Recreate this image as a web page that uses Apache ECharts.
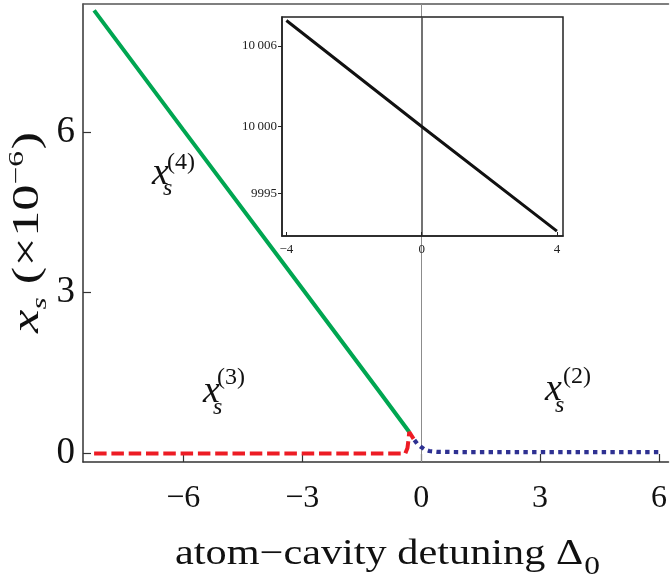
<!DOCTYPE html>
<html>
<head>
<meta charset="utf-8">
<script src="https://cdn.jsdelivr.net/npm/echarts@6/dist/echarts.min.js"></script>
<style>html,body{margin:0;padding:0;background:#fff}#c{width:670px;height:581px}</style>
</head>
<body>
<div id="c"></div>
<script>
// ---- data ----
const xTicks = [-6, -3, 0, 3, 6];
const yTicks = [0, 3, 6];
const insetXTicks = [-4, 0, 4];
const insetYTicks = [9995, 10000, 10006];
// x_s^(4) stable upper branch (green)
const branch4 = [[-8.25, 8.27], [-6, 6.04], [-3, 3.08], [-1, 1.1], [-0.30, 0.40]];
// x_s^(3) unstable branch (red dashed)
const branch3 = [[-8.25, 0.0], [-4, 0.0], [-0.40, 0.0], [-0.36, 0.03], [-0.345, 0.10], [-0.32, 0.25], [-0.30, 0.40], [-0.18, 0.26]];
// x_s^(2) branch (blue dotted)
const branch2 = [[-0.17, 0.25], [-0.10, 0.18], [0, 0.12], [0.1, 0.07], [0.2, 0.045], [0.4, 0.03], [1, 0.025], [6, 0.025]];
// inset x_s^(1)
const branch1 = [[-4, 10007.9], [0, 10000.0], [4, 9992.2]];

const SERIF = '"Liberation Serif", "Times New Roman", serif';
const chart = echarts.init(document.getElementById('c'), null, {renderer: 'canvas'});

const cv = document.createElement('canvas').getContext('2d');
function measure(t, font) { cv.font = font; return cv.measureText(t).width; }
function txt(t, x, y, size, italic) {
  const font = (italic ? 'italic ' : '') + size + 'px ' + SERIF;
  return {type: 'text', x: x, y: y - 0.34 * size,
    style: {text: t, font: font, fill: '#111', textAlign: 'left', textVerticalAlign: 'middle', align: 'left', verticalAlign: 'middle'}};
}
function runs(list) {
  let x = 0; const ch = [];
  list.forEach(r => {
    const font = (r.it ? 'italic ' : '') + r.size + 'px ' + SERIF;
    ch.push(txt(r.t, x + (r.dx || 0), r.dy || 0, r.size, r.it));
    x += measure(r.t, font) + (r.dx || 0);
  });
  return {children: ch, width: x};
}
function subsup(left, base, n, big, small, sdx, sdy, pdx, pdy) {
  return {type: 'group', x: left, y: base, z: 100, children: [
    txt('x', 0, 0, big, true),
    txt('s', sdx, sdy, small, true),
    txt('(' + n + ')', pdx, pdy, small, false)
  ]};
}

const xt = runs([{t: 'atom\u2212cavity detuning \u0394', size: 35}, {t: '0', size: 26, dy: 9, dx: 1}]);
const yt = runs([{t: 'x', size: 37, it: true}, {t: 's', size: 22, it: true, dy: 7}, {t: ' (\u00d710', size: 37}, {t: '\u22126', size: 22, dy: -16}, {t: ')', size: 37, dx: 1}]);

const axisColor = '#333';
const option = {
  backgroundColor: '#fff',
  animation: false,
  grid: [
    {left: 83, top: 4, right: 0, bottom: 119, show: false},
    {left: 282, top: 17, width: 281, height: 219, show: true, backgroundColor: '#fff', borderColor: '#222', borderWidth: 1.5, z: 5}
  ],
  xAxis: [
    {type: 'value', gridIndex: 0, min: -8.53, max: 6.24, position: 'bottom',
      axisLine: {show: true, onZero: false, lineStyle: {color: axisColor, width: 1.5}},
      axisTick: {show: true, inside: true, length: 8, customValues: xTicks, lineStyle: {color: axisColor, width: 1.2}},
      axisLabel: {customValues: xTicks, margin: 21, fontSize: 32, fontFamily: SERIF, color: '#111', formatter: v => String(v).replace('-', '\u2212')},
      splitLine: {show: false}},
    {type: 'value', gridIndex: 0, min: -8.53, max: 6.24, position: 'top',
      axisLine: {show: true, onZero: false, lineStyle: {color: '#555', width: 1.5}},
      axisTick: {show: false}, axisLabel: {show: false}, splitLine: {show: false}},
    {type: 'value', gridIndex: 1, min: -4.13, max: 4.18, position: 'bottom',
      axisLine: {show: true, onZero: false, lineStyle: {color: '#222', width: 1.5}},
      axisTick: {show: true, inside: true, length: 4, customValues: insetXTicks, lineStyle: {color: '#222'}},
      axisLabel: {customValues: insetXTicks, margin: 7, fontSize: 13, fontFamily: SERIF, color: '#222', formatter: v => String(v).replace('-', '\u2212')},
      splitLine: {show: false}, z: 6}
  ],
  yAxis: [
    {type: 'value', gridIndex: 0, min: -0.16, max: 8.39,
      axisLine: {show: true, onZero: false, lineStyle: {color: axisColor, width: 1.5}},
      axisTick: {show: true, inside: true, length: 8, customValues: yTicks, lineStyle: {color: axisColor, width: 1.2}},
      axisLabel: {customValues: yTicks, margin: 8, fontSize: 37, fontFamily: SERIF, color: '#111'},
      splitLine: {show: false}},
    {type: 'value', gridIndex: 1, min: 9991.84, max: 10008.16,
      axisLine: {show: true, onZero: false, lineStyle: {color: '#222', width: 1.5}},
      axisTick: {show: true, inside: false, length: 4, customValues: insetYTicks, lineStyle: {color: '#222'}},
      axisLabel: {customValues: insetYTicks, margin: 5, fontSize: 13, fontFamily: SERIF, color: '#222',
        formatter: v => v >= 10000 ? '10\u2009' + String(v).slice(2) : String(v)},
      splitLine: {show: false}, z: 6}
  ],
  series: [
    {type: 'line', name: 'x4', xAxisIndex: 0, yAxisIndex: 0, data: branch4, showSymbol: false, symbol: 'none',
      lineStyle: {color: '#00A651', width: 4}, z: 3,
      markLine: {silent: true, symbol: 'none', label: {show: false}, lineStyle: {color: '#8c8c8c', width: 1, type: 'solid'},
        data: [{xAxis: 0}], z: 1}},
    {type: 'line', name: 'x3', xAxisIndex: 0, yAxisIndex: 0, data: branch3, showSymbol: false, symbol: 'none',
      lineStyle: {color: '#ED1C24', width: 4, type: [12.5, 4.8]}, z: 3},
    {type: 'line', name: 'x2', xAxisIndex: 0, yAxisIndex: 0, data: branch2, showSymbol: false, symbol: 'none',
      lineStyle: {color: '#2E3192', width: 4.2, type: [4.4, 4.3]}, z: 3},
    {type: 'line', name: 'x1', xAxisIndex: 2, yAxisIndex: 1, data: branch1, showSymbol: false, symbol: 'none',
      lineStyle: {color: '#111', width: 3}, z: 8,
      markLine: {silent: true, symbol: 'none', label: {show: false}, lineStyle: {color: '#444', width: 1.5, type: 'solid'},
        data: [{xAxis: 0}]}}
  ],
  graphic: [
    {type: 'group', x: 175, y: 567, scaleX: 425 / xt.width, children: xt.children},
    {type: 'group', x: 41, y: 333, rotation: Math.PI / 2, scaleX: 201 / yt.width, children: yt.children},
    subsup(152, 187, 4, 38, 24, 11, 10, 15, -16),
    subsup(203, 405, 3, 38, 24, 10, 11, 14, -19),
    subsup(545, 403, 2, 38, 24, 10, 11, 18, -18),
    subsup(455, 122, 1, 33, 21, 6, 10, 12, -13)
  ]
};
chart.setOption(option);
</script>
</body>
</html>
